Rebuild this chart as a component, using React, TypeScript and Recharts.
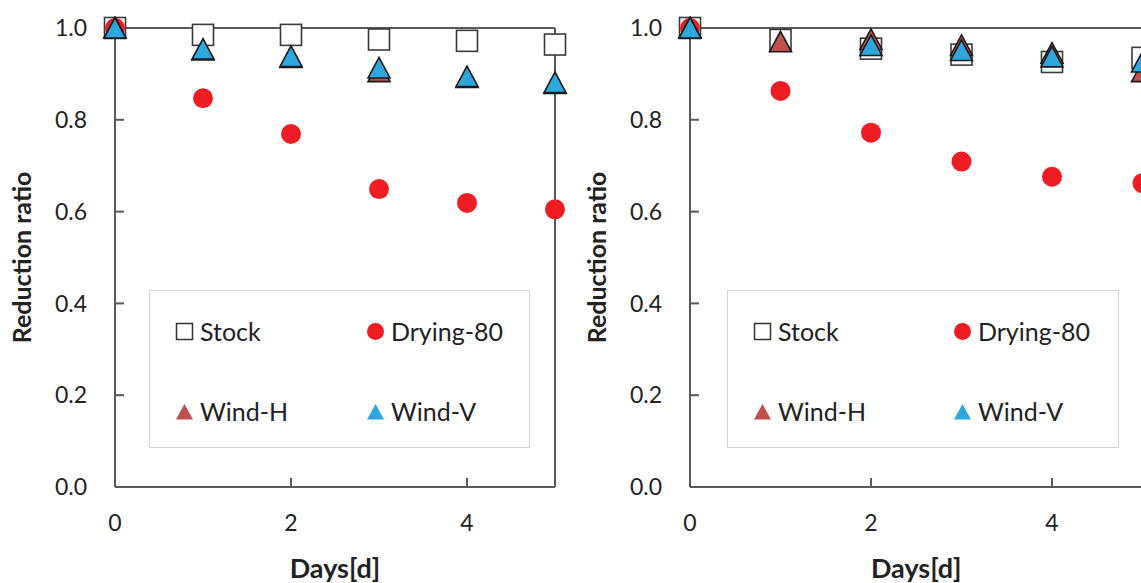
import { Legend, ReferenceLine, Scatter, ScatterChart, XAxis, YAxis } from "recharts";

const days = [0, 1, 2, 3, 4, 5];
const dayTicks = [0, 2, 4];
const ratioTicks = [0, 0.2, 0.4, 0.6, 0.8, 1.0];

// left panel
const leftStock = [1.0, 0.985, 0.985, 0.975, 0.972, 0.964];
const leftDrying = [1.0, 0.847, 0.769, 0.649, 0.619, 0.605];
const leftWindH = [1.0, 0.952, 0.936, 0.905, 0.892, 0.879];
const leftWindV = [1.0, 0.954, 0.938, 0.913, 0.894, 0.881];

// right panel (Wind-V has no visible point on day 1)
const rightStock = [1.0, 0.974, 0.955, 0.942, 0.926, 0.935];
const rightDrying = [1.0, 0.863, 0.772, 0.709, 0.676, 0.662];
const rightWindH = [1.0, 0.97, 0.975, 0.962, 0.945, 0.905];
const rightWindV = [1.0, null, 0.962, 0.951, 0.937, 0.926];

const FONT = "Lato, 'Open Sans', sans-serif";
const AXIS = "#595959";
const TEXT = "#222";
const RED = "#ee1d23";
const BLUE = "#2ea6de";
const BROWN = "#c0504d";

type Pt = { cx?: number; cy?: number };

function toRows(values: Array<number | null>) {
  return days
    .map((day, i) => ({ day, ratio: values[i] }))
    .filter((row) => row.ratio !== null);
}

function SquareMark({ cx = 0, cy = 0 }: Pt) {
  return <rect x={cx - 10.5} y={cy - 10.5} width={21} height={21} fill="#fff" stroke="#3a3a3a" strokeWidth={1.6} />;
}

function DotMark({ cx = 0, cy = 0 }: Pt) {
  return <circle cx={cx} cy={cy} r={10} fill={RED} />;
}

function triangle(fill: string) {
  return ({ cx = 0, cy = 0 }: Pt) => (
    <polygon
      points={`${cx},${cy - 10.5} ${cx + 11},${cy + 10} ${cx - 11},${cy + 10}`}
      fill={fill}
      stroke="#1a1a1a"
      strokeWidth={1.6}
    />
  );
}

const legendItems = [
  { name: "Stock", icon: "square" },
  { name: "Drying-80", icon: "dot" },
  { name: "Wind-H", icon: "triH" },
  { name: "Wind-V", icon: "triV" }
];

function LegendIcon({ icon }: { icon: string }) {
  return (
    <svg width={19} height={19} style={{ flexShrink: 0 }}>
      {icon === "square" && <rect x={1.5} y={1.5} width={16} height={16} fill="#fff" stroke="#333" strokeWidth={1.5} />}
      {icon === "dot" && <circle cx={9.5} cy={9.5} r={8.5} fill={RED} />}
      {icon === "triH" && <polygon points="9.5,2 18,17.5 1,17.5" fill={BROWN} />}
      {icon === "triV" && <polygon points="9.5,2 18,17.5 1,17.5" fill={BLUE} />}
    </svg>
  );
}

function LegendBox({ col2 }: { col2: number }) {
  return (
    <div style={{ position: "relative", width: "100%", height: "100%" }}>
      {legendItems.map((item, i) => (
        <div
          key={item.name}
          style={{
            position: "absolute",
            left: i % 2 === 0 ? 25 : col2,
            top: i < 2 ? 22 : 102,
            height: 36,
            display: "flex",
            alignItems: "center",
            gap: 6,
            fontFamily: FONT,
            fontSize: 25,
            color: TEXT,
            whiteSpace: "nowrap"
          }}
        >
          <LegendIcon icon={item.icon} />
          <span>{item.name}</span>
        </div>
      ))}
    </div>
  );
}

function Panel({
  left,
  width,
  marginRight,
  stock,
  drying,
  windH,
  windV,
  legendLeft,
  legendWidth,
  legendCol2
}: {
  left: number;
  width: number;
  marginRight: number;
  stock: Array<number | null>;
  drying: Array<number | null>;
  windH: Array<number | null>;
  windV: Array<number | null>;
  legendLeft: number;
  legendWidth: number;
  legendCol2: number;
}) {
  const axisLine = { stroke: AXIS, strokeWidth: 2 };
  const tick = { fill: TEXT, fontSize: 23, fontFamily: FONT };
  return (
    <div style={{ position: "absolute", left, top: 0 }}>
      <ScatterChart width={width} height={583} margin={{ top: 28, right: marginRight, bottom: 0, left: 0 }} style={{ fontFamily: FONT }}>
        <XAxis
          dataKey="day"
          type="number"
          domain={[0, 5]}
          ticks={dayTicks}
          height={96}
          axisLine={axisLine}
          tickLine={axisLine}
          tickSize={-9}
          tickMargin={37}
          tick={tick}
          label={{ value: "Days[d]", position: "insideBottom", offset: 5, fill: TEXT, fontSize: 27, fontWeight: 700, fontFamily: FONT }}
        />
        <YAxis
          dataKey="ratio"
          type="number"
          domain={[0, 1]}
          ticks={ratioTicks}
          width={115}
          axisLine={axisLine}
          tickLine={axisLine}
          tickSize={-9}
          tickMargin={37}
          tick={tick}
          tickFormatter={(v) => Number(v).toFixed(1)}
          label={{
            value: "Reduction ratio",
            angle: -90,
            position: "insideLeft",
            offset: 22,
            fill: TEXT,
            fontSize: 25,
            fontWeight: 700,
            fontFamily: FONT,
            style: { textAnchor: "middle" }
          }}
        />
        {/* frame: top and right edges of the plot box */}
        <ReferenceLine y={1} stroke={AXIS} strokeWidth={2} />
        <ReferenceLine x={5} stroke={AXIS} strokeWidth={2} />
        <Legend
          layout="horizontal"
          verticalAlign="middle"
          align="center"
          content={() => <LegendBox col2={legendCol2} />}
          wrapperStyle={{
            left: legendLeft,
            top: 290,
            width: legendWidth,
            height: 158,
            border: "1.5px solid #d2d2d2",
            background: "#fff",
            boxSizing: "border-box"
          }}
        />
        <Scatter name="Stock" data={toRows(stock)} shape={SquareMark} isAnimationActive={false} />
        <Scatter name="Drying-80" data={toRows(drying)} shape={DotMark} isAnimationActive={false} />
        <Scatter name="Wind-H" data={toRows(windH)} shape={triangle(BROWN)} isAnimationActive={false} />
        <Scatter name="Wind-V" data={toRows(windV)} shape={triangle(BLUE)} isAnimationActive={false} />
      </ScatterChart>
    </div>
  );
}

export default function App() {
  return (
    <div style={{ position: "fixed", left: 0, top: 0, width: 1141, height: 583, overflow: "hidden", background: "#fff" }}>
      <Panel
        left={0}
        width={580}
        marginRight={25}
        stock={leftStock}
        drying={leftDrying}
        windH={leftWindH}
        windV={leftWindV}
        legendLeft={149}
        legendWidth={381}
        legendCol2={216}
      />
      <Panel
        left={575}
        width={600}
        marginRight={32.5}
        stock={rightStock}
        drying={rightDrying}
        windH={rightWindH}
        windV={rightWindV}
        legendLeft={152}
        legendWidth={392}
        legendCol2={225}
      />
    </div>
  );
}
